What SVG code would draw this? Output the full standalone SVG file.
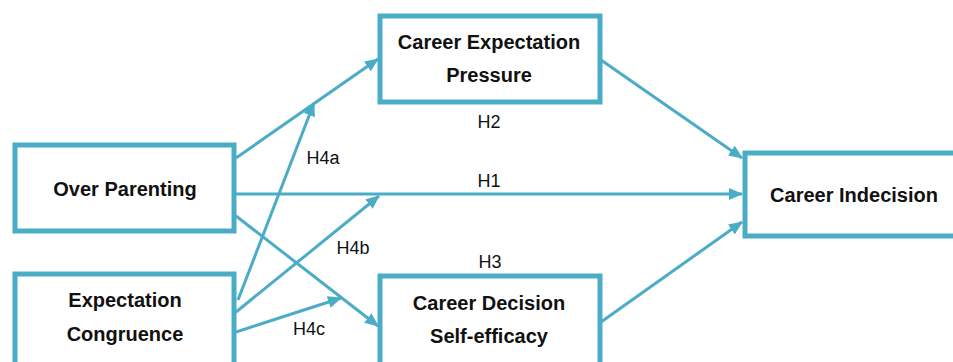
<svg xmlns="http://www.w3.org/2000/svg" width="953" height="362" viewBox="0 0 953 362">
  <style>
    .box { fill: #ffffff; stroke: #4BACC6; stroke-width: 5; }
    .conn { fill: none; stroke: #4BACC6; stroke-width: 3; marker-end: url(#arr); }
    .lbl { font-family: "Liberation Sans", Arial, sans-serif; font-size: 20px; font-weight: bold; fill: #111111; text-anchor: middle; }
    .h { font-family: "Liberation Sans", Arial, sans-serif; font-size: 18px; fill: #111111; text-anchor: middle; }
  </style>
  <defs>
    <marker id="arr" markerUnits="userSpaceOnUse" markerWidth="14" markerHeight="12" refX="13" refY="6" orient="auto">
      <path d="M0,0 L14,6 L0,12 z" fill="#4BACC6"/>
    </marker>
  </defs>
  <rect width="953" height="362" fill="#ffffff"/>
  <g id="connectors">
    <line class="conn" x1="236" y1="158" x2="378" y2="59"/>
    <line class="conn" x1="236" y1="194" x2="742" y2="194"/>
    <line class="conn" x1="236" y1="216" x2="378" y2="326"/>
    <line class="conn" x1="238" y1="300" x2="314" y2="103"/>
    <line class="conn" x1="236" y1="312" x2="379" y2="196"/>
    <line class="conn" x1="236" y1="332" x2="341" y2="298"/>
    <line class="conn" x1="601" y1="60" x2="742" y2="158"/>
    <line class="conn" x1="601" y1="322" x2="742" y2="222"/>
    <text class="h" x="489" y="128">H2</text>
    <text class="h" x="489" y="187">H1</text>
    <text class="h" x="490" y="268">H3</text>
    <text class="h" x="323" y="164">H4a</text>
    <text class="h" x="353" y="254">H4b</text>
    <text class="h" x="309" y="335">H4c</text>
  </g>
  <g id="over-parenting">
    <rect class="box" x="15" y="145" width="219" height="86"/>
    <text class="lbl" x="125" y="196">Over Parenting</text>
  </g>
  <g id="expectation-congruence">
    <rect class="box" x="15" y="274" width="219" height="100"/>
    <text class="lbl" x="125" y="307">Expectation</text>
    <text class="lbl" x="125" y="341">Congruence</text>
  </g>
  <g id="career-expectation-pressure">
    <rect class="box" x="380" y="16" width="220" height="86"/>
    <text class="lbl" x="489" y="49">Career Expectation</text>
    <text class="lbl" x="489" y="82">Pressure</text>
  </g>
  <g id="career-decision-self-efficacy">
    <rect class="box" x="380" y="276" width="220" height="100"/>
    <text class="lbl" x="489" y="310">Career Decision</text>
    <text class="lbl" x="489" y="343">Self-efficacy</text>
  </g>
  <g id="career-indecision">
    <rect class="box" x="745" y="153" width="220" height="83"/>
    <text class="lbl" x="854" y="202">Career Indecision</text>
  </g>
</svg>
